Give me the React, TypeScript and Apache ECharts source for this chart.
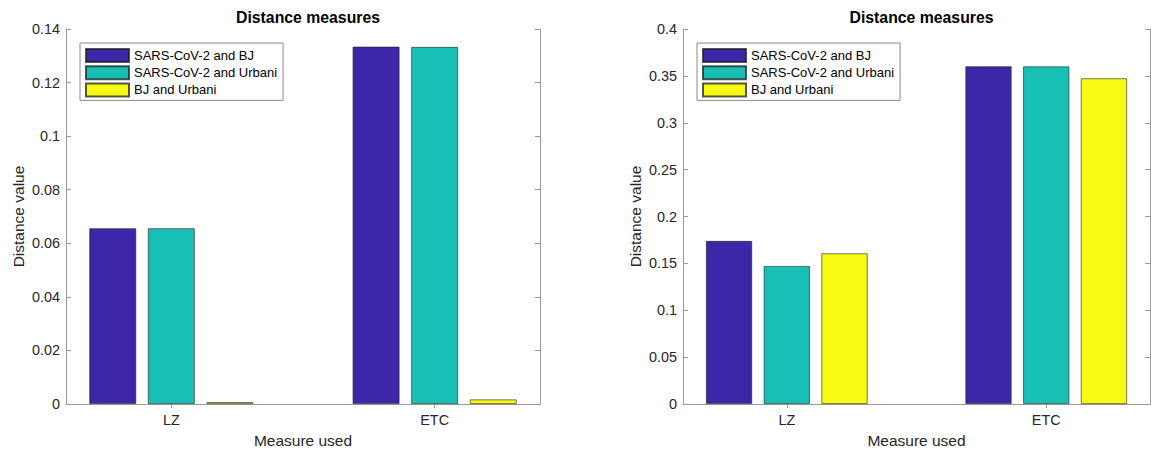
import React, { useEffect, useRef } from "react";
import * as echarts from "echarts";

const categories = ["LZ", "ETC"];
const categoryPositions = [1, 2];
const seriesNames = ["SARS-CoV-2 and BJ", "SARS-CoV-2 and Urbani", "BJ and Urbani"];
const seriesColors = ["#3e26a8", "#18bfb4", "#f9fa14"];

// left panel values
const leftSarsBJ = [0.0656, 0.1334];
const leftSarsUrbani = [0.0656, 0.1333];
const leftBJUrbani = [0.0007, 0.0017];

// right panel values
const rightSarsBJ = [0.1739, 0.3602];
const rightSarsUrbani = [0.1472, 0.3601];
const rightBJUrbani = [0.1607, 0.3474];

const leftYTicks = { min: 0, max: 0.14, interval: 0.02 };
const rightYTicks = { min: 0, max: 0.4, interval: 0.05 };

const FONT = "'Liberation Sans', Arial, Helvetica, sans-serif";
const TEXT = "#262626";
const AXIS = "#9a9a9a";

export default function App() {
  const ref = useRef<HTMLDivElement>(null);
  useEffect(() => {
    if (!ref.current) return;
    const chart = echarts.init(ref.current, null, { renderer: "svg" });

    const grids = [
      { left: 66, top: 29, width: 474, height: 375, outerBoundsMode: "none", containLabel: false },
      { left: 683, top: 29, width: 467, height: 375, outerBoundsMode: "none", containLabel: false },
    ];
    const yRanges = [leftYTicks, rightYTicks];
    const panelData = [
      [leftSarsBJ, leftSarsUrbani, leftBJUrbani],
      [rightSarsBJ, rightSarsUrbani, rightBJUrbani],
    ];

    const fmt = (v: number) => String(+v.toFixed(4));

    const xAxes: any[] = [];
    const yAxes: any[] = [];
    const series: any[] = [];
    const titles: any[] = [];
    const legends: any[] = [];

    grids.forEach((g, gi) => {
      xAxes.push({
        type: "value",
        gridIndex: gi,
        position: "bottom",
        min: 0.6,
        max: 2.4,
        name: "Measure used",
        nameLocation: "middle",
        nameGap: 28,
        nameTextStyle: { color: TEXT, fontSize: 15.5, fontFamily: FONT },
        axisLine: { show: true, lineStyle: { color: AXIS, width: 1 } },
        axisTick: { show: true, inside: true, length: 4, customValues: categoryPositions, lineStyle: { color: AXIS } },
        axisLabel: {
          show: true,
          customValues: categoryPositions,
          formatter: (v: number) => categories[categoryPositions.indexOf(Math.round(v))] ?? "",
          color: TEXT,
          fontSize: 14.4,
          fontFamily: FONT,
          margin: 9,
        },
        splitLine: { show: false },
      });
      xAxes.push({
        type: "value",
        gridIndex: gi,
        position: "top",
        min: 0.6,
        max: 2.4,
        axisLine: { show: true, lineStyle: { color: AXIS, width: 1 } },
        axisTick: { show: true, inside: true, length: 4, customValues: categoryPositions, lineStyle: { color: AXIS } },
        axisLabel: { show: false },
        splitLine: { show: false },
      });
      const yr = yRanges[gi];
      yAxes.push({
        type: "value",
        gridIndex: gi,
        position: "left",
        min: yr.min,
        max: yr.max,
        interval: yr.interval,
        name: "Distance value",
        nameLocation: "middle",
        nameGap: 40,
        nameTextStyle: { color: TEXT, fontSize: 15.5, fontFamily: FONT },
        axisLine: { show: true, lineStyle: { color: AXIS, width: 1 } },
        axisTick: { show: true, inside: true, length: 5, lineStyle: { color: AXIS } },
        axisLabel: { color: TEXT, fontSize: 14.4, fontFamily: FONT, margin: 6, formatter: fmt },
        splitLine: { show: false },
      });
      yAxes.push({
        type: "value",
        gridIndex: gi,
        position: "right",
        min: yr.min,
        max: yr.max,
        interval: yr.interval,
        axisLine: { show: true, lineStyle: { color: AXIS, width: 1 } },
        axisTick: { show: true, inside: true, length: 5, lineStyle: { color: AXIS } },
        axisLabel: { show: false },
        splitLine: { show: false },
      });

      panelData[gi].forEach((vals, si) => {
        series.push({
          type: "bar",
          name: seriesNames[si],
          xAxisIndex: gi * 2,
          yAxisIndex: gi * 2,
          barWidth: "17.8%",
          barGap: "25%",
          data: vals.map((v, ci) => [categoryPositions[ci], v]),
          itemStyle: { color: seriesColors[si], borderColor: "rgba(30,30,30,0.75)", borderWidth: 0.8 },
        });
      });

      titles.push({
        text: "Distance measures",
        left: g.left + g.width / 2,
        textAlign: "center",
        top: 4,
        textStyle: { color: "#000", fontSize: 15.8, fontWeight: "bold", fontFamily: FONT },
      });

      legends.push({
        orient: "vertical",
        left: gi === 0 ? 80 : 697,
        top: 43,
        padding: [5, 6, 3, 5],
        itemWidth: 43,
        itemHeight: 13,
        itemGap: 2.2,
        icon: "rect",
        borderColor: "#8a8a8a",
        borderWidth: 1,
        backgroundColor: "#fff",
        selectedMode: false,
        data: seriesNames,
        textStyle: { color: "#000", fontSize: 13, lineHeight: 13, fontFamily: FONT, padding: [0, 0, 0, 0] },
      });
    });

    chart.setOption({
      animation: false,
      backgroundColor: "#fff",
      title: titles,
      legend: legends,
      grid: grids,
      xAxis: xAxes,
      yAxis: yAxes,
      series,
    });
    return () => chart.dispose();
  }, []);

  return (
    <div
      ref={ref}
      style={{ position: "absolute", left: 0, top: 0, width: 1151, height: 450 }}
    />
  );
}
